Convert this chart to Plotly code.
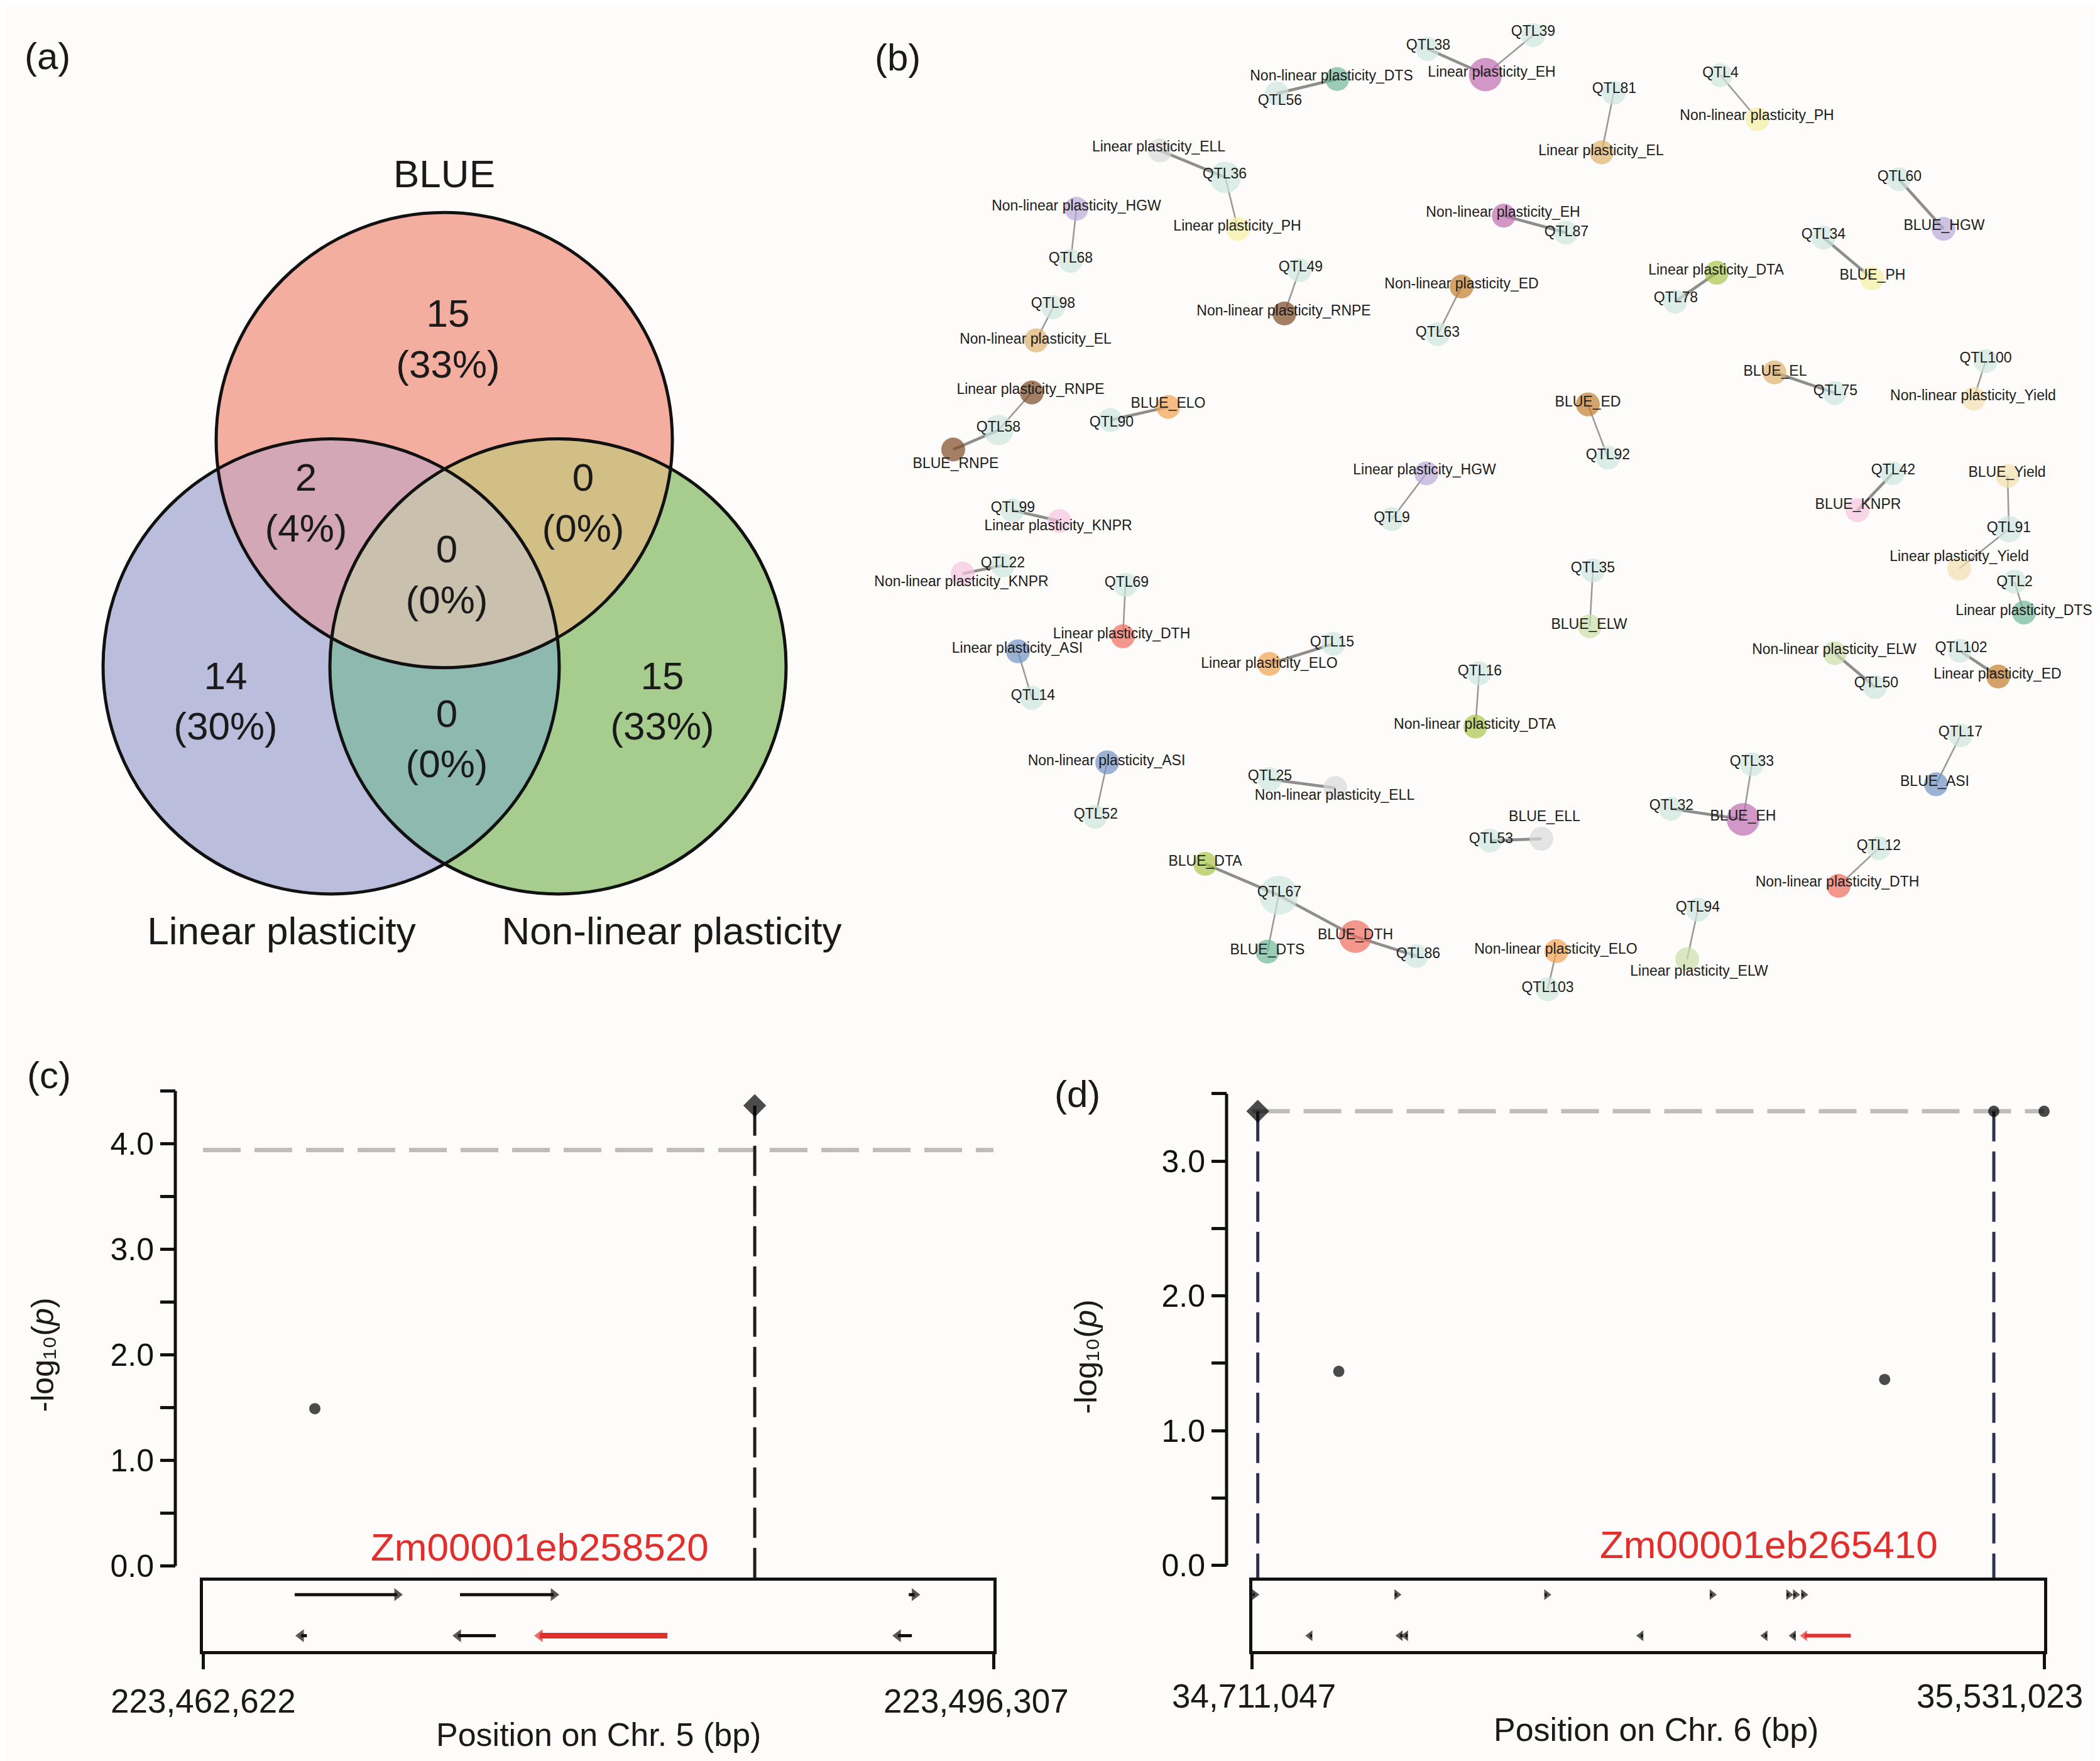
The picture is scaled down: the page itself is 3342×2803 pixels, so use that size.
import numpy as np
import plotly.graph_objects as go

W, H = 3342, 2803
FONT = "Liberation Sans, Arial, Helvetica, sans-serif"
BG = "#FDFCFA"
INK = "#1A1A1A"

# ======================= DATA =======================
# ---- (a) Venn diagram ----
venn_set_names = ["BLUE", "Linear plasticity", "Non-linear plasticity"]
venn_region_members = [(0,), (1,), (2,), (0, 1), (0, 2), (1, 2), (0, 1, 2)]
venn_counts = [15, 14, 15, 2, 0, 0, 0]

# ---- (b) co-localisation network ----
net_nodes = [
    "QTL38", "QTL39", "Linear plasticity_EH", "Non-linear plasticity_DTS", "QTL56",
    "QTL81", "Linear plasticity_EL", "QTL4", "Non-linear plasticity_PH", "Linear plasticity_ELL",
    "QTL36", "Linear plasticity_PH", "Non-linear plasticity_HGW", "QTL68", "Non-linear plasticity_EH",
    "QTL87", "QTL60", "BLUE_HGW", "QTL34", "BLUE_PH",
    "Linear plasticity_DTA", "QTL78", "QTL49", "Non-linear plasticity_RNPE", "Non-linear plasticity_ED",
    "QTL63", "QTL98", "Non-linear plasticity_EL", "BLUE_EL", "QTL75",
    "QTL100", "Non-linear plasticity_Yield", "Linear plasticity_RNPE", "QTL58", "BLUE_RNPE",
    "BLUE_ELO", "QTL90", "BLUE_ED", "QTL92", "Linear plasticity_HGW",
    "QTL9", "QTL42", "BLUE_KNPR", "BLUE_Yield", "QTL91",
    "Linear plasticity_Yield", "QTL2", "Linear plasticity_DTS", "QTL99", "Linear plasticity_KNPR",
    "QTL22", "Non-linear plasticity_KNPR", "QTL69", "Linear plasticity_DTH", "Linear plasticity_ASI",
    "QTL14", "QTL15", "Linear plasticity_ELO", "QTL35", "BLUE_ELW",
    "QTL16", "Non-linear plasticity_DTA", "Non-linear plasticity_ELW", "QTL50", "QTL102",
    "Linear plasticity_ED", "QTL17", "BLUE_ASI", "Non-linear plasticity_ASI", "QTL52",
    "QTL25", "Non-linear plasticity_ELL", "QTL33", "QTL32", "BLUE_EH",
    "BLUE_ELL", "QTL53", "QTL12", "Non-linear plasticity_DTH", "BLUE_DTA",
    "QTL67", "BLUE_DTH", "BLUE_DTS", "QTL86", "QTL94",
    "Linear plasticity_ELW", "Non-linear plasticity_ELO", "QTL103",
]
net_node_x = [
    2264, 2432, 2356, 2120, 2024, 2560, 2541, 2730, 2789, 1838,
    1942, 1962, 1705, 1696, 2385, 2484, 3014, 3085, 2894, 2971,
    2724, 2658, 2060, 2036, 2318, 2280, 1668, 1641, 2816, 2912,
    3152, 3133, 1634, 1581, 1509, 1851, 1759, 2519, 2551, 2262,
    2207, 3004, 2948, 3187, 3189, 3110, 3198, 3213, 1603, 1678,
    1588, 1524, 1783, 1779, 1612, 1634, 2114, 2012, 2527, 2522,
    2346, 2340, 2912, 2976, 3111, 3172, 3112, 3073, 1754, 1735,
    2013, 2117, 2780, 2651, 2766, 2445, 2363, 2982, 2918, 1910,
    2027, 2149, 2009, 2246, 2694, 2677, 2469, 2455,
]
net_node_y = [
    70, 48, 111, 118, 141, 140, 235, 112, 182, 232,
    275, 357, 325, 408, 336, 363, 278, 357, 371, 436,
    427, 473, 423, 492, 449, 525, 482, 535, 586, 619,
    568, 628, 618, 678, 709, 641, 662, 637, 722, 747,
    820, 747, 806, 751, 836, 899, 920, 969, 806, 823,
    894, 907, 925, 1007, 1031, 1105, 1019, 1051, 902, 991,
    1066, 1151, 1034, 1088, 1030, 1071, 1165, 1243, 1208, 1295,
    1235, 1249, 1211, 1282, 1299, 1330, 1333, 1345, 1405, 1370,
    1420, 1486, 1510, 1517, 1443, 1522, 1509, 1570,
]
net_label_x = [
    2265, 2432, 2366, 2111, 2029, 2561, 2540, 2730, 2788, 1836,
    1941, 1961, 1705, 1696, 2384, 2485, 3015, 3086, 2894, 2972,
    2723, 2659, 2062, 2035, 2318, 2280, 1668, 1640, 2817, 2913,
    3152, 3132, 1632, 1581, 1513, 1851, 1761, 2519, 2551, 2259,
    2207, 3005, 2949, 3186, 3189, 3110, 3198, 3213, 1604, 1676,
    1588, 1522, 1785, 1777, 1611, 1636, 2112, 2012, 2527, 2521,
    2347, 2339, 2911, 2978, 3113, 3171, 3112, 3071, 1753, 1736,
    2013, 2116, 2780, 2652, 2766, 2450, 2365, 2982, 2916, 1910,
    2028, 2149, 2009, 2249, 2694, 2696, 2468, 2455,
]
net_label_y = [
    65, 43, 108, 114, 154, 135, 234, 109, 178, 228,
    271, 354, 322, 405, 332, 363, 275, 353, 367, 432,
    424, 468, 419, 489, 446, 523, 477, 534, 585, 617,
    564, 625, 615, 675, 733, 637, 667, 635, 719, 743,
    819, 743, 798, 747, 835, 881, 921, 967, 803, 832,
    891, 921, 922, 1004, 1027, 1103, 1017, 1051, 899, 989,
    1064, 1149, 1029, 1083, 1026, 1069, 1161, 1240, 1207, 1292,
    1231, 1262, 1208, 1278, 1295, 1296, 1331, 1342, 1400, 1367,
    1416, 1484, 1508, 1514, 1440, 1543, 1507, 1569,
]
net_node_size = [
    38, 38, 53, 38, 38, 38, 38, 38, 38, 38,
    50, 38, 38, 38, 38, 38, 38, 38, 38, 38,
    38, 38, 38, 38, 38, 38, 38, 38, 38, 38,
    38, 38, 38, 48, 38, 38, 38, 38, 38, 38,
    38, 38, 38, 38, 42, 38, 38, 38, 38, 38,
    38, 38, 38, 38, 38, 38, 38, 38, 38, 38,
    38, 38, 38, 38, 38, 38, 38, 38, 38, 38,
    38, 38, 38, 38, 52, 38, 38, 38, 38, 38,
    62, 52, 38, 38, 38, 38, 38, 38,
]
# edges: (node a, node b, weight 1 = thin, 2 = thick)
net_edges = [
    ("QTL38", "Linear plasticity_EH", 2), ("QTL39", "Linear plasticity_EH", 1),
    ("Non-linear plasticity_DTS", "QTL56", 2), ("QTL81", "Linear plasticity_EL", 1),
    ("QTL4", "Non-linear plasticity_PH", 1), ("Linear plasticity_ELL", "QTL36", 2),
    ("QTL36", "Linear plasticity_PH", 1), ("Non-linear plasticity_HGW", "QTL68", 1),
    ("Non-linear plasticity_EH", "QTL87", 2), ("QTL60", "BLUE_HGW", 2),
    ("QTL34", "BLUE_PH", 2), ("Linear plasticity_DTA", "QTL78", 2),
    ("QTL49", "Non-linear plasticity_RNPE", 1), ("Non-linear plasticity_ED", "QTL63", 1),
    ("QTL98", "Non-linear plasticity_EL", 1), ("BLUE_EL", "QTL75", 2),
    ("QTL100", "Non-linear plasticity_Yield", 1), ("Linear plasticity_RNPE", "QTL58", 1),
    ("QTL58", "BLUE_RNPE", 2), ("BLUE_ELO", "QTL90", 2),
    ("BLUE_ED", "QTL92", 1), ("Linear plasticity_HGW", "QTL9", 1),
    ("QTL42", "BLUE_KNPR", 2), ("BLUE_Yield", "QTL91", 1),
    ("QTL91", "Linear plasticity_Yield", 1), ("QTL2", "Linear plasticity_DTS", 1),
    ("QTL99", "Linear plasticity_KNPR", 2), ("QTL22", "Non-linear plasticity_KNPR", 2),
    ("QTL69", "Linear plasticity_DTH", 1), ("Linear plasticity_ASI", "QTL14", 1),
    ("QTL15", "Linear plasticity_ELO", 2), ("QTL35", "BLUE_ELW", 1),
    ("QTL16", "Non-linear plasticity_DTA", 1), ("Non-linear plasticity_ELW", "QTL50", 2),
    ("QTL102", "Linear plasticity_ED", 2), ("QTL17", "BLUE_ASI", 1),
    ("Non-linear plasticity_ASI", "QTL52", 1), ("QTL25", "Non-linear plasticity_ELL", 2),
    ("QTL33", "BLUE_EH", 1), ("QTL32", "BLUE_EH", 2),
    ("BLUE_ELL", "QTL53", 2), ("QTL12", "Non-linear plasticity_DTH", 1),
    ("BLUE_DTA", "QTL67", 2), ("QTL67", "BLUE_DTH", 2),
    ("QTL67", "BLUE_DTS", 1), ("BLUE_DTH", "QTL86", 2),
    ("QTL94", "Linear plasticity_ELW", 1), ("Non-linear plasticity_ELO", "QTL103", 1),
]

# ---- (c) Chr. 5 regional association ----
c_range = [223462622, 223496307]
c_snp_pos = [223467389, 223486135]
c_snp_logp = [1.49, 4.36]
c_snp_lead = [False, True]
c_threshold = 3.94
c_gene_start = [223466532, 223473575, 223492700, 223466800, 223473495, 223476976, 223492240]
c_gene_end = [223470897, 223477565, 223492950, 223467050, 223475101, 223482413, 223492830]
c_gene_strand = [1, 1, 1, -1, -1, -1, -1]
c_gene_target = [False, False, False, False, False, True, False]
c_target_name = "Zm00001eb258520"

# ---- (d) Chr. 6 regional association ----
d_range = [34711047, 35531023]
d_snp_pos = [34717000, 34800880, 35365970, 35479000, 35531023]
d_snp_logp = [3.37, 1.44, 1.38, 3.37, 3.37]
d_snp_lead = [True, False, False, True, False]
d_threshold = 3.37
d_gene_start = [34711800, 34858900, 35014000, 35185300, 35264600, 35271600, 35280000,
                34771100, 34864500, 34870100, 35113700, 35242200, 35271600, 35283160]
d_gene_end = [34713800, 34860900, 35016000, 35187300, 35266600, 35273600, 35282000,
              34773100, 34866500, 34872100, 35115700, 35244200, 35273600, 35330900]
d_gene_strand = [1, 1, 1, 1, 1, 1, 1, -1, -1, -1, -1, -1, -1, -1]
d_gene_target = [False] * 13 + [True]
d_target_name = "Zm00001eb265410"

# ======================= STYLE / LAYOUT =======================
def px(x):
    return x / W


def py(y):
    return 1 - y / H


VENN_C = [(699, 694), (519, 1055), (880, 1055)]
VENN_R = 363
VENN_FILL = ["#F4AEA0", "#BABDDC", "#A6CD8D", "#D3A7B5", "#D2BF86", "#8DB9AE", "#C9C1AE"]
VENN_TEXT_POS = [(705, 538), (351, 1116), (1046, 1116), (479, 800), (920, 800), (703, 1176), (703, 914)]
VENN_SET_POS = [(699, 275), (440, 1483), (1061, 1483)]

TRAIT_COLOR = {
    "EH": "#BE6DB0", "DTS": "#6FB89A", "EL": "#DDB26B", "PH": "#F4F0A0", "ELL": "#DADADA",
    "HGW": "#B8A9D6", "DTA": "#A6C64A", "RNPE": "#7E4A23", "ED": "#C27D2C", "Yield": "#F2DFAE",
    "ELO": "#F2A24F", "KNPR": "#F5C6DE", "DTH": "#EE6C5C", "ASI": "#7193C3", "ELW": "#CADFAA",
}
QTL_COLOR = "#CDE6DD"

fig = go.Figure()

# ---------- (a) Venn ----------
def circle_pts(c, r, n=2400):
    t = np.linspace(0, 2 * np.pi, n, endpoint=False)
    return np.c_[c[0] + r * np.cos(t), c[1] + r * np.sin(t)]


def region_poly(members):
    pts = []
    for i in members:
        p = circle_pts(VENN_C[i], VENN_R)
        ok = np.ones(len(p), bool)
        for j in members:
            if j != i:
                ok &= np.hypot(p[:, 0] - VENN_C[j][0], p[:, 1] - VENN_C[j][1]) <= VENN_R + 1e-6
        pts.append(p[ok])
    pts = np.vstack(pts)
    cen = pts.mean(0)
    ang = np.arctan2(pts[:, 1] - cen[1], pts[:, 0] - cen[0])
    return pts[np.argsort(ang)]


for members, col in zip(venn_region_members, VENN_FILL):
    poly = circle_pts(VENN_C[members[0]], VENN_R) if len(members) == 1 else region_poly(members)
    fig.add_trace(go.Scatter(x=list(poly[:, 0]) + [poly[0, 0]], y=list(poly[:, 1]) + [poly[0, 1]],
                             mode="lines", fill="toself", fillcolor=col, line=dict(width=0),
                             hoverinfo="skip", showlegend=False))

total = sum(venn_counts)
venn_text = [f"{c}<br>({round(100 * c / total)}%)" for c in venn_counts]
fig.add_trace(go.Scatter(x=[p[0] for p in VENN_TEXT_POS], y=[p[1] for p in VENN_TEXT_POS],
                         mode="text", text=venn_text, textposition="middle center",
                         textfont=dict(family=FONT, size=62, color=INK), hoverinfo="skip",
                         showlegend=False))
fig.add_trace(go.Scatter(x=[p[0] for p in VENN_SET_POS], y=[p[1] for p in VENN_SET_POS],
                         mode="text", text=venn_set_names, textposition="middle center",
                         textfont=dict(family=FONT, size=62, color=INK), hoverinfo="skip",
                         showlegend=False))

shapes = []
for c in VENN_C:
    shapes.append(dict(type="circle", xref="x", yref="y", x0=c[0] - VENN_R, x1=c[0] + VENN_R,
                       y0=c[1] - VENN_R, y1=c[1] + VENN_R, line=dict(color="#111111", width=5)))

# ---------- (b) network ----------
idx = {n: i for i, n in enumerate(net_nodes)}
for wt, lw, col in [(1, 2.6, "#9A9A9A"), (2, 4.6, "#8E8E8E")]:
    ex, ey = [], []
    for a, b, w in net_edges:
        if w == wt:
            ex += [net_node_x[idx[a]], net_node_x[idx[b]], None]
            ey += [net_node_y[idx[a]], net_node_y[idx[b]], None]
    fig.add_trace(go.Scatter(x=ex, y=ey, mode="lines", line=dict(color=col, width=lw),
                             hoverinfo="skip", showlegend=False))

node_colors = [QTL_COLOR if n.startswith("QTL") else TRAIT_COLOR[n.split("_")[-1]] for n in net_nodes]
fig.add_trace(go.Scatter(x=net_node_x, y=net_node_y, mode="markers",
                         marker=dict(size=net_node_size, color=node_colors, line=dict(width=0)),
                         hoverinfo="skip", showlegend=False))
fig.add_trace(go.Scatter(x=net_label_x, y=net_label_y, mode="text", text=net_nodes,
                         textposition="middle center",
                         textfont=dict(family=FONT, size=23, color="#1C1C1C"),
                         hoverinfo="skip", showlegend=False))

# ---------- (c) & (d) regional plots ----------
TRACK_RANGE = [-1.76, 1.69]


def regional(xa, ya, yt, snp_pos, snp_logp, snp_lead, thr, ymin,
             g_start, g_end, g_strand, g_target, lead_col, red_w, head):
    # significance threshold
    shapes.append(dict(type="line", xref=xa + " domain", yref=ya, x0=0, x1=1, y0=thr, y1=thr,
                       layer="below", line=dict(color="#BDBDBD", width=7, dash="60px,22px")))
    # dashed verticals from marked SNPs down to the gene track
    for p, v, l in zip(snp_pos, snp_logp, snp_lead):
        if l:
            fig.add_trace(go.Scatter(x=[p, p], y=[v, ymin], mode="lines", xaxis=xa, yaxis=ya,
                                     line=dict(color=lead_col, width=5, dash="48px,16px"),
                                     hoverinfo="skip", showlegend=False))
    symbols, sizes = [], []
    first = True
    for l in snp_lead:
        if l and first:
            symbols.append("diamond"); sizes.append(28); first = False
        else:
            symbols.append("circle"); sizes.append(18)
    fig.add_trace(go.Scatter(x=snp_pos, y=snp_logp, mode="markers", xaxis=xa, yaxis=ya,
                             marker=dict(symbol=symbols, size=sizes, color="#000000",
                                         line=dict(width=0)),
                             cliponaxis=False, hoverinfo="skip", showlegend=False))
    # genes
    for s, e, st, t in zip(g_start, g_end, g_strand, g_target):
        xs = [s, e] if st > 0 else [e, s]
        col = "#E3302C" if t else "#111111"
        fig.add_trace(go.Scatter(x=xs, y=[st, st], mode="lines+markers", xaxis=xa, yaxis=yt,
                                 line=dict(color=col, width=red_w if t else 5),
                                 marker=dict(size=[0, head],
                                             symbol="triangle-right" if st > 0 else "triangle-left",
                                             color=col, line=dict(width=0)),
                                 cliponaxis=False, hoverinfo="skip", showlegend=False))


C_YMIN = -23 / ((2490 - 1732) / 4.5)
D_YMIN = -24 / ((2489 - 1736.6) / 3.5)

regional("x2", "y2", "y3", c_snp_pos, c_snp_logp, c_snp_lead, c_threshold, C_YMIN,
         c_gene_start, c_gene_end, c_gene_strand, c_gene_target, "#1E1E1E", 9, 18)
regional("x3", "y4", "y5", d_snp_pos, d_snp_logp, d_snp_lead, d_threshold, D_YMIN,
         d_gene_start, d_gene_end, d_gene_strand, d_gene_target, "#2E3150", 6, 15)

# y axis lines (only from 0 to the top tick)
shapes.append(dict(type="line", xref="paper", yref="y2", x0=px(271), x1=px(271), y0=0, y1=4.5,
                   line=dict(color="#111111", width=5)))
shapes.append(dict(type="line", xref="paper", yref="y4", x0=px(1944), x1=px(1944), y0=0, y1=3.5,
                   line=dict(color="#111111", width=5)))

hidden = dict(visible=False, showgrid=False, zeroline=False, fixedrange=True)
xbox = dict(showline=True, mirror=True, linecolor="#111111", linewidth=5, ticks="outside",
            ticklen=24, tickwidth=5, tickcolor="#111111", showticklabels=False,
            showgrid=False, zeroline=False)
ybox = dict(range=TRACK_RANGE, showline=True, mirror=True, linecolor="#111111", linewidth=5,
            ticks="", showticklabels=False, showgrid=False, zeroline=False)
yreg = dict(anchor="free", showline=False, ticks="outside", ticklen=24, tickwidth=5,
            tickcolor="#111111", tickformat=".1f",
            tickfont=dict(family=FONT, size=50, color="#111111"),
            showgrid=False, zeroline=False)


def minor_ticks():
    return dict(ticks="outside", ticklen=24, tickwidth=5, tickcolor="#111111",
                tick0=0, dtick=0.5, showgrid=False)


fig.update_layout(
    width=W, height=H, margin=dict(l=0, r=0, t=0, b=0),
    paper_bgcolor=BG, plot_bgcolor="rgba(0,0,0,0)", showlegend=False,
    xaxis=dict(domain=[0, 1], range=[0, W], **hidden),
    yaxis=dict(domain=[0, 1], range=[H, 0], **hidden),
    xaxis2=dict(domain=[px(315), px(1573)], range=c_range, anchor="y3", tickvals=c_range, **xbox),
    yaxis3=dict(domain=[py(2626), py(2513)], anchor="x2", **ybox),
    yaxis2=dict(domain=[py(2513), py(1732)], range=[C_YMIN, 4.5], position=px(271),
                tickmode="linear", tick0=0, dtick=1, minor=minor_ticks(), **yreg),
    xaxis3=dict(domain=[px(1984.5), px(3245)], range=d_range, anchor="y5", tickvals=d_range, **xbox),
    yaxis5=dict(domain=[py(2626), py(2513)], anchor="x3", **ybox),
    yaxis4=dict(domain=[py(2513), py(1736.6)], range=[D_YMIN, 3.5], position=px(1944),
                tickmode="linear", tick0=0, dtick=1, minor=minor_ticks(), **yreg),
    shapes=shapes,
)


def ann(x, y, text, size, color=INK, angle=0):
    return dict(x=px(x), y=py(y), xref="paper", yref="paper", text=text, showarrow=False,
                xanchor="center", yanchor="middle", textangle=angle,
                font=dict(family=FONT, size=size, color=color))


def fmt(v):
    return f"{v:,}"


YTITLE = "-log\u2081\u2080(<i>p</i>)"

annotations = [
    ann(67, 82, "(a)", 60), ann(1420, 84, "(b)", 60), ann(70, 1707, "(c)", 60), ann(1706, 1737, "(d)", 60),
    # panel c
    ann(851, 2460, c_target_name, 62, "#E0302D"),
    ann(315, 2705, fmt(c_range[0]), 53), ann(1545, 2705, fmt(c_range[1]), 53),
    ann(944, 2759, "Position on Chr. 5 (bp)", 52),
    ann(60, 2153, YTITLE, 50, angle=-90),
    # panel d
    ann(2807, 2456, d_target_name, 62, "#E0302D"),
    ann(1987, 2697, fmt(d_range[0]), 53), ann(3174, 2697, fmt(d_range[1]), 53),
    ann(2627, 2751, "Position on Chr. 6 (bp)", 52),
    ann(1720, 2156, YTITLE, 50, angle=-90),
]
fig.update_layout(annotations=annotations)

fig.write_html("out.html")
